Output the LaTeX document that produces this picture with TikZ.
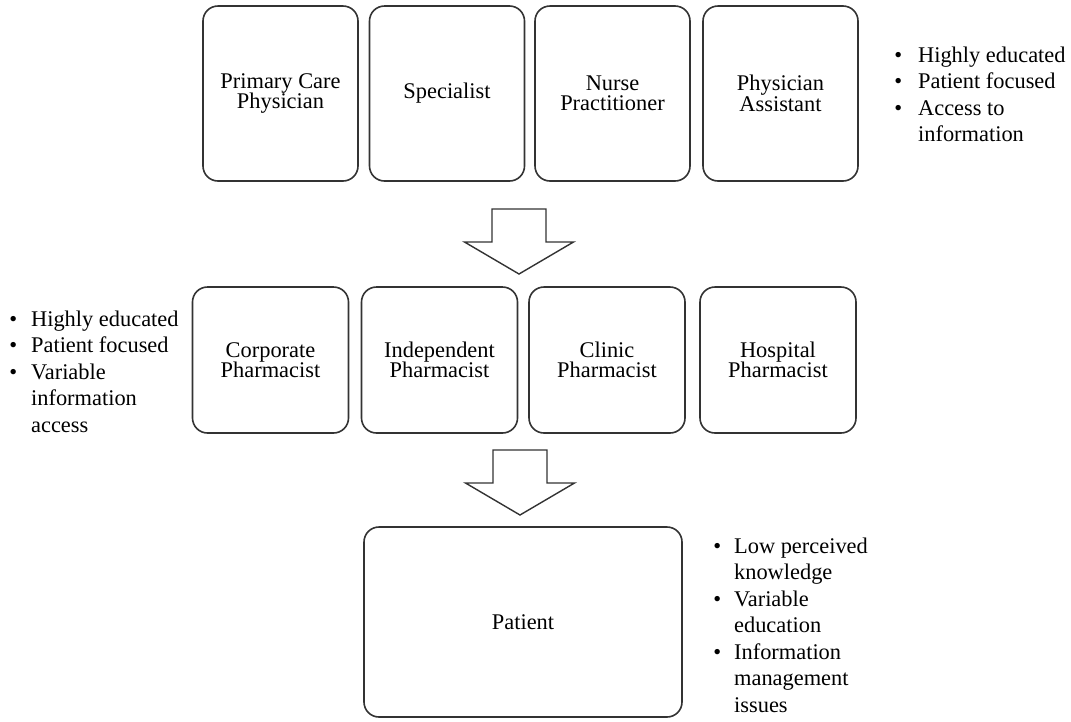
\documentclass[tikz,border=0pt]{standalone}
\usepackage{fontspec}
\setmainfont{Liberation Serif}
\begin{document}
\begin{tikzpicture}[x=1pt, y=-1pt,
  role/.style={draw=black!80, fill=white, line width=1.6pt, rounded corners=15pt,
    align=center, inner sep=0pt, text=black,
    font=\fontsize{22.4}{20.5}\selectfont},
  toprole/.style={role, minimum width=155pt, minimum height=175pt},
  midrole/.style={role, minimum width=156pt, minimum height=146pt},
  notes/.style={inner sep=0pt, anchor=base west, text=black,
    font=\fontsize{22.4}{26.5}\selectfont},
  arrowline/.style={draw=black!80, fill=white, line width=1.4pt, line join=miter},
  pics/flowarrow/.style={code={
    \draw[arrowline] (-27,0) -- (27,0) -- (27,33) -- (54.5,33) -- (0,65)
      -- (-54.5,33) -- (-27,33) -- cycle;
  }}]
\useasboundingbox (0,0) rectangle (1071,721);

% prescribers
\node[toprole] (pcp)  at (280.5,93.5) {Primary Care\\Physician};
\node[toprole] (spec) at (447,93.5)   {Specialist};
\node[toprole] (np)   at (612.5,93.5) {Nurse\\Practitioner};
\node[toprole] (pa)   at (780.5,93.5) {Physician\\Assistant};

% pharmacists
\node[midrole] (corp) at (270.5,360) {Corporate\\Pharmacist};
\node[midrole] (ind)  at (439.5,360) {Independent\\Pharmacist};
\node[midrole] (clin) at (607,360)   {Clinic\\Pharmacist};
\node[midrole] (hosp) at (778,360)   {Hospital\\Pharmacist};

% patient
\node[role, minimum width=318pt, minimum height=190pt] (pat) at (523,622) {Patient};

% flow between the tiers
\pic at (519,209) {flowarrow};
\pic at (520,450) {flowarrow};

% characteristics of each tier
\node[notes] (topnotes) at (894.1,62) {\begin{tabular}[t]{@{}l@{\hspace{16pt}}l@{}}
  \textbullet & Highly educated\\
  \textbullet & Patient focused\\
  \textbullet & Access to\\
              & information
\end{tabular}};

\node[notes] (midnotes) at (9.1,326) {\begin{tabular}[t]{@{}l@{\hspace{14pt}}l@{}}
  \textbullet & Highly educated\\
  \textbullet & Patient focused\\
  \textbullet & Variable\\
              & information\\
              & access
\end{tabular}};

\node[notes] (patnotes) at (713.1,553) {\begin{tabular}[t]{@{}l@{\hspace{13pt}}l@{}}
  \textbullet & Low perceived\\
              & knowledge\\
  \textbullet & Variable\\
              & education\\
  \textbullet & Information\\
              & management\\
              & issues
\end{tabular}};
\end{tikzpicture}
\end{document}
